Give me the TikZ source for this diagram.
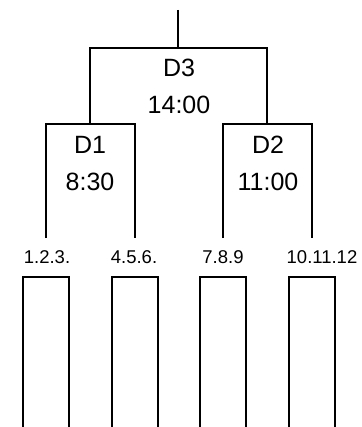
\documentclass[tikz,border=0pt]{standalone}
\usepackage{fontspec}
\setmainfont{Liberation Sans}
\begin{document}
\begin{tikzpicture}[x=1pt,y=-1pt,line width=2.4pt]
                \useasboundingbox (0,0) rectangle (361,427);

                \coordinate  (T) at (178,10); %頂点
                \coordinate  (M) at (178,48); %決勝の中央
                \coordinate  (A) at (90,124); %D3左
                \coordinate  (B) at (267,124); %D3右
                \coordinate  (C) at (46,238); %D1左
                \coordinate  (D) at (135,238); %D1右
                \coordinate  (E) at (223,238); %D2左
                \coordinate  (F) at (312,238); %D2右

                \draw (T) -- (M);
                \draw (A) |- (M) -| (B);
                \draw (C) |- (A) -| (D);
                \draw (E) |- (B) -| (F);

                \node[font=\fontsize{25}{25}\selectfont] (d3) at (179,68) {D3};
                \node[font=\fontsize{25}{25}\selectfont] (t3) at (179,105) {14:00};
                \node[font=\fontsize{25}{25}\selectfont] (d1) at (90,145) {D1};
                \node[font=\fontsize{25}{25}\selectfont] (t1) at (90,182) {8:30};
                \node[font=\fontsize{25}{25}\selectfont] (d2) at (268,145) {D2};
                \node[font=\fontsize{25}{25}\selectfont] (t2) at (268,182) {11:00};

                % 各グループ
                \foreach \x/\t/\n in {47/1.2.3./g1, 134/4.5.6./g2, 223/7.8.9/g3, 322/10.11.12/g4}
                    \node[font=\fontsize{18.5}{18.5}\selectfont] (\n) at (\x,257) {\t};
                \foreach \x in {23,112,200,289}
                    \draw (\x,430) |- (\x+46,277) -- (\x+46,430);

            \end{tikzpicture}
\end{document}
